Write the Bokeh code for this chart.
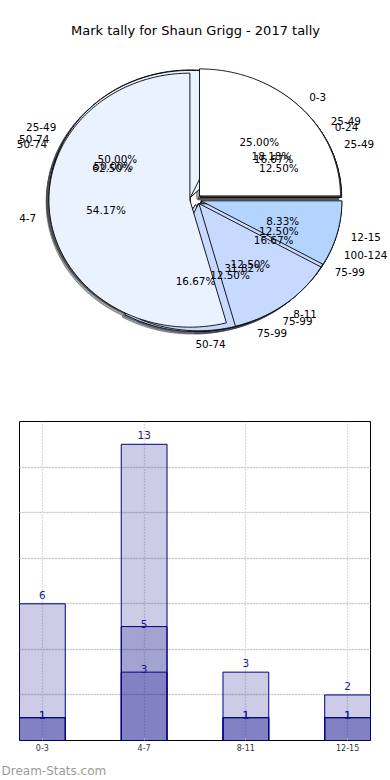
import math
from bokeh.plotting import figure
from bokeh.layouts import column
from bokeh.models import Range1d, FixedTicker, Grid
from bokeh.core.properties import value
from bokeh.embed import file_html
from bokeh.resources import INLINE

# ---------------- data ----------------
title = "Mark tally for Shaun Grigg - 2017 tally"
categories = ["0-3", "4-7", "8-11", "12-15"]
games_total = [6, 13, 3, 2]
series_2 = [1, 5, 1, 1]
series_3 = [1, 3, 1, 1]

pie_b_labels = ["0-24", "25-49", "50-74", "75-99"]
pie_b_values = [1, 3, 1, 1]
pie_c_labels = ["25-49", "50-74", "75-99", "100-124"]
pie_c_values = [1, 5, 1, 1]
pie_d_labels = ["25-49", "50-74", "75-99"]
pie_d_values = [4, 11, 7]
main_labels = categories
main_values = games_total

slice_colors = ["#ffffff", "#eaf1ff", "#c7d9ff", "#b3d4ff"]
watermark = "Dream-Stats.com"

FONT = "DejaVu Sans"

# ---------------- pie figure ----------------
W1, H1 = 390, 396
CXP, CYP = 195, 199   # pie centre in figure pixels (from top)
RX, RY = 141.0, 127.0

p1 = figure(width=W1, height=H1, output_backend="svg", toolbar_location=None,
            x_range=Range1d(-CXP / RX, (W1 - CXP) / RX),
            y_range=Range1d(-(H1 - CYP) / RY, CYP / RY),
            x_axis_location=None, y_axis_location=None, frame_align=False,
            min_border=0, min_border_left=0, min_border_right=0,
            min_border_top=0, min_border_bottom=0)
p1.outline_line_color = None
p1.grid.visible = False


def pie_geometry(values, explode=0.04):
    total = float(sum(values))
    theta1 = 0.0
    out = []
    for v in values:
        frac = v / total
        theta2 = theta1 + frac
        thetam = 2 * math.pi * 0.5 * (theta1 + theta2)
        ox = explode * math.cos(thetam)
        oy = explode * math.sin(thetam)
        n = max(int(abs(theta2 - theta1) * 360), 2)
        angs = [2 * math.pi * (theta1 + (theta2 - theta1) * i / n) for i in range(n + 1)]
        xs = [ox] + [ox + math.cos(a) for a in angs]
        ys = [oy] + [oy + math.sin(a) for a in angs]
        out.append(dict(xs=xs, ys=ys, ox=ox, oy=oy, thetam=thetam, frac=frac))
        theta1 = theta2
    return out


def darken(hexcol, f=0.3):
    r, g, b = int(hexcol[1:3], 16), int(hexcol[3:5], 16), int(hexcol[5:7], 16)
    return "#%02x%02x%02x" % (int(r * f), int(g * f), int(b * f))


pies = [(pie_b_labels, pie_b_values), (pie_c_labels, pie_c_values),
        (pie_d_labels, pie_d_values), (main_labels, main_values)]
geoms = [pie_geometry(v) for _, v in pies]

# shadows (below every wedge)
for g in geoms:
    sx, sy, sc = [], [], []
    for i, s in enumerate(g):
        sx.append([x - 0.02 for x in s["xs"]])
        sy.append([y - 0.02 for y in s["ys"]])
        sc.append(darken(slice_colors[i % 4]))
    p1.patches(xs=sx, ys=sy, fill_color=sc, fill_alpha=0.5, line_color=sc, line_alpha=0.5, line_width=1)

# wedges
for g in geoms:
    wx = [s["xs"] for s in g]
    wy = [s["ys"] for s in g]
    wc = [slice_colors[i % 4] for i in range(len(g))]
    p1.patches(xs=wx, ys=wy, fill_color=wc, line_color="black", line_width=0.9)

# labels
lx_l, ly_l, lt_l, lx_r, ly_r, lt_r = [], [], [], [], [], []
px, py, pt = [], [], []
for (labels, _), g in zip(pies, geoms):
    for lab, s in zip(labels, g):
        xt = s["ox"] + 1.1 * math.cos(s["thetam"])
        yt = s["oy"] + 1.1 * math.sin(s["thetam"])
        if xt > -1e-9:
            lx_l.append(xt); ly_l.append(yt); lt_l.append(lab)
        else:
            lx_r.append(xt); ly_r.append(yt); lt_r.append(lab)
        px.append(s["ox"] + 0.6 * math.cos(s["thetam"]))
        py.append(s["oy"] + 0.6 * math.sin(s["thetam"]))
        pt.append("%.2f%%" % (s["frac"] * 100))

common = dict(text_font=value(FONT), text_font_size="10.4px", text_color="black",
              text_baseline="middle")
p1.text(x=lx_l, y=ly_l, text=lt_l, text_align="left", **common)
p1.text(x=lx_r, y=ly_r, text=lt_r, text_align="right", **common)
p1.text(x=px, y=py, text=pt, text_align="center", **common)

# title
p1.text(x=[(W1 / 2 - CXP) / RX], y=[(CYP - 30) / RY], text=[title], text_align="center",
        text_baseline="middle", text_font=value(FONT), text_font_size="13px", text_color="black")

# ---------------- bar figure ----------------
W2, H2 = 390, 358
xpos = list(range(len(categories)))
p2 = figure(width=W2, height=H2, output_backend="svg", toolbar_location=None,
            x_range=Range1d(-0.225, 3.225), y_range=Range1d(0, 14),
            y_axis_location=None, frame_align=False,
            min_border_left=19, min_border_right=20, min_border_top=25, min_border_bottom=14)
p2.outline_line_color = "black"
p2.outline_line_width = 1
p2.outline_line_alpha = 1

xa = p2.xaxis[0]
xa.ticker = FixedTicker(ticks=xpos)
xa.major_label_overrides = {i: c for i, c in zip(xpos, categories)}
xa.axis_line_color = None
xa.major_tick_in = 3
xa.major_tick_out = 0
xa.major_tick_line_color = "#aaaaaa"
xa.minor_tick_line_color = None
xa.major_label_text_font = FONT
xa.major_label_text_font_size = "8px"
xa.major_label_text_color = "#333333"
xa.major_label_standoff = 3

p2.xgrid.ticker = FixedTicker(ticks=xpos)
p2.xgrid.grid_line_color = "#bbbbbb"
p2.xgrid.grid_line_dash = "1 2"
p2.xgrid.grid_line_width = 1.3
p2.add_layout(Grid(dimension=1, ticker=FixedTicker(ticks=[2, 4, 6, 8, 10, 12]),
                   grid_line_color="#bbbbbb", grid_line_dash="1 2", grid_line_width=1.3))

for vals in (games_total, series_2, series_3):
    p2.vbar(x=xpos, width=0.45, top=vals, fill_color="navy", fill_alpha=0.2,
            line_color="navy", line_width=1)

lab_common = dict(text_font=value(FONT), text_font_size="10.5px", text_color="#1a1a8c",
                  text_align="center", text_baseline="middle")
p2.text(x=xpos, y=games_total, text=[str(v) for v in games_total], y_offset=-9, **lab_common)
p2.text(x=xpos, y=series_2, text=[str(v) for v in series_2], y_offset=-3, **lab_common)
p2.text(x=xpos, y=series_3, text=[str(v) for v in series_3], y_offset=-3, **lab_common)

# ---------------- watermark strip ----------------
W3, H3 = 390, 26
p3 = figure(width=W3, height=H3, output_backend="svg", toolbar_location=None,
            x_range=Range1d(0, W3), y_range=Range1d(0, H3),
            x_axis_location=None, y_axis_location=None, frame_align=False,
            min_border=0, min_border_left=0, min_border_right=0,
            min_border_top=0, min_border_bottom=0)
p3.outline_line_color = None
p3.grid.visible = False
p3.text(x=[1], y=[H3 - 16], text=[watermark], text_font=value(FONT), text_font_size="12px",
        text_color="#9a9a9a", text_baseline="middle", text_align="left")

layout = column(p1, p2, p3)
open("out.html", "w").write(file_html(layout, INLINE))
